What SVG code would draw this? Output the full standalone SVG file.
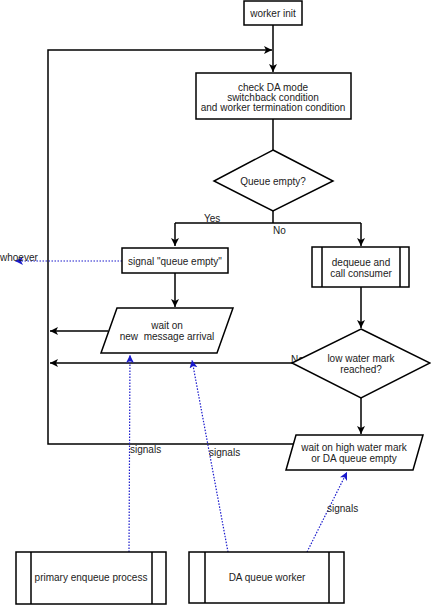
<svg xmlns="http://www.w3.org/2000/svg" width="431" height="605" viewBox="0 0 431 605">
<defs>
<marker id="ah" markerWidth="10" markerHeight="10" refX="8" refY="4" orient="auto" markerUnits="userSpaceOnUse">
<path d="M0,0 L8,4 L0,8 L2,4 Z" fill="#000"/>
</marker>
<marker id="bh" markerWidth="10" markerHeight="10" refX="8" refY="4" orient="auto" markerUnits="userSpaceOnUse">
<path d="M0,0 L8,4 L0,8 L2,4 Z" fill="#1a1acc"/>
</marker>
</defs>
<style>
.n{fill:#fff;stroke:#000;stroke-width:1.5}
.t{font-family:"Liberation Sans",Arial,sans-serif;font-size:10px;fill:#222;text-anchor:middle}
.l{font-family:"Liberation Sans",Arial,sans-serif;font-size:10px;fill:#222}
.c{fill:none;stroke:#000;stroke-width:1.5}
.s{fill:none;stroke:#1a1acc;stroke-width:1.2;stroke-dasharray:1.5,1.5}
</style>
<rect width="431" height="605" fill="#fff"/>
<g id="connectors">
<path class="c" d="M273,25 L273,72" marker-end="url(#ah)"/>
<path class="c" d="M273,119 L273,150"/>
<path class="c" d="M273,211 L273,223 M175,223 L361,223"/>
<path class="c" d="M175,223 L175,246" marker-end="url(#ah)"/>
<path class="c" d="M361,223 L361,246" marker-end="url(#ah)"/>
<path class="c" d="M175,273 L175,307" marker-end="url(#ah)"/>
<path class="c" d="M108,331 L50,331" marker-end="url(#ah)"/>
<path class="c" d="M361,287 L361,328" marker-end="url(#ah)"/>
<path class="c" d="M292,363 L50,363" marker-end="url(#ah)"/>
<path class="c" d="M361,398 L361,434" marker-end="url(#ah)"/>
<path class="c" d="M293,444 L48,444 L48,50 L272,50" marker-end="url(#ah)"/>
<path class="s" d="M122,261 L15,261" marker-end="url(#bh)"/>
<path class="s" d="M129,552 L130,355" marker-end="url(#bh)"/>
<path class="s" d="M228,552 L192,360" marker-end="url(#bh)"/>
<path class="s" d="M307,552 L347,472" marker-end="url(#bh)"/>
<text class="l" x="204" y="222">Yes</text>
<text class="l" x="273" y="234">No</text>
<text class="l" x="291" y="363">No</text>
<text class="l" x="0" y="261">whoever</text>
<text class="l" x="130" y="453">signals</text>
<text class="l" x="209" y="456">signals</text>
<text class="l" x="327" y="512">signals</text>
</g>
<g id="worker-init">
<rect class="n" x="244" y="1" width="58" height="24"/>
<text class="t" x="273" y="17">worker init</text>
</g>
<g id="check-da">
<rect class="n" x="196" y="73" width="155" height="46"/>
<text class="t" x="273" y="91">check DA mode</text>
<text class="t" x="273" y="101">switchback condition</text>
<text class="t" x="273" y="111">and worker termination condition</text>
</g>
<g id="queue-empty">
<path class="n" d="M273,150 L333,181 L273,211 L214,181 Z"/>
<text class="t" x="273" y="185">Queue empty?</text>
</g>
<g id="signal-queue-empty">
<rect class="n" x="122" y="248" width="106" height="25"/>
<text class="t" x="175" y="265">signal "queue empty"</text>
</g>
<g id="dequeue">
<rect class="n" x="312" y="247" width="97" height="40"/>
<path class="c" d="M322,247 L322,287 M400,247 L400,287"/>
<text class="t" x="361" y="266">dequeue and</text>
<text class="t" x="361" y="277">call consumer</text>
</g>
<g id="wait-new-message">
<path class="n" d="M117,308 L233,308 L217,353 L101,353 Z"/>
<text class="t" x="167" y="329">wait on</text>
<text class="t" x="167" y="340">new &#160;message arrival</text>
</g>
<g id="low-water-mark">
<path class="n" d="M361,329 L430,363 L361,398 L292,363 Z"/>
<text class="t" x="361" y="362">low water mark</text>
<text class="t" x="361" y="373">reached?</text>
</g>
<g id="wait-high-water">
<path class="n" d="M296,435 L423,435 L413,470 L286,470 Z"/>
<text class="t" x="354" y="451">wait on high water mark</text>
<text class="t" x="354" y="462">or DA queue empty</text>
</g>
<g id="primary-enqueue">
<rect class="n" x="16" y="552" width="150" height="52"/>
<path class="c" d="M31,552 L31,604 M152,552 L152,604"/>
<text class="t" x="91" y="581">primary enqueue process</text>
</g>
<g id="da-queue-worker">
<rect class="n" x="189" y="552" width="155" height="51"/>
<path class="c" d="M205,552 L205,603 M329,552 L329,603"/>
<text class="t" x="267" y="581">DA queue worker</text>
</g>
</svg>
